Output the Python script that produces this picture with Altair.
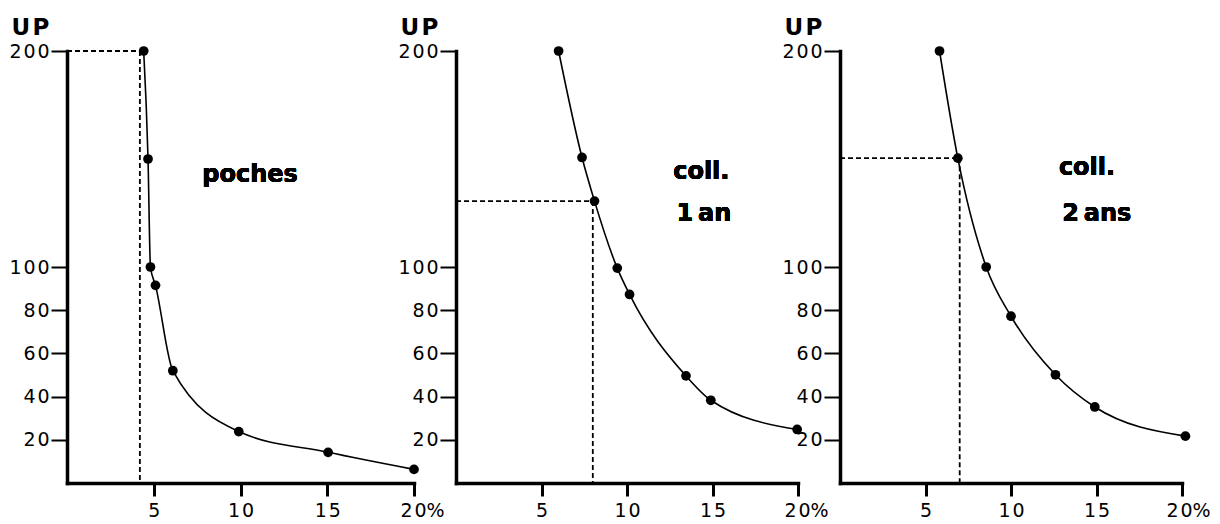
import altair as alt
import pandas as pd

# ---- data ----
poches_pct = [4.42, 4.67, 4.81, 5.1, 6.1, 9.9, 15.05, 20.0]
poches_up = [200, 150, 100, 91.5, 52, 23.8, 14.2, 6.3]

coll1_pct = [6.0, 7.37, 8.1, 9.43, 10.15, 13.45, 14.9, 19.95]
coll1_up = [200, 150.7, 130.5, 99.5, 87.3, 49.6, 38.3, 24.8]

coll2_pct = [5.82, 6.89, 8.55, 10.0, 12.6, 14.9, 20.2]
coll2_up = [200, 150.4, 100, 77.2, 50.1, 35.2, 21.7]

# dashed guide lines
guide_vert_pct = [4.2, 8.0, 7.0]
guide_horiz_up = [200, 130.5, 150.4]
guide_horiz_end = [4.42, 8.1, 6.89]

panel_labels = [["poches"], ["coll.", "1\u2009an"], ["coll.", "2\u2009ans"]]

x_ticks = [5, 10, 15, 20]
x_tick_labels = ["5", "10", "15", "20%"]
y_ticks = [20, 40, 60, 80, 100, 200]
y_tick_labels = ["20", "40", "60", "80", "100", "200"]
y_title = "U\u200aP"

HAIR = "\u200a"


def spaced(s):
    out = ""
    for i, ch in enumerate(s):
        if i > 0 and ch.isdigit() and s[i - 1].isdigit():
            out += HAIR
        out += ch
    return out


def label_expr(values, labels):
    expr = "datum.label"
    for v, l in reversed(list(zip(values, labels))):
        expr = f"datum.value == {v} ? '{spaced(l)}' : {expr}"
    return expr


# annotation anchors (data units) for each panel's text lines
text_anchor = [
    [(7.8, 139.4)],
    [(12.7, 140.7), (12.9, 121.3)],
    [(12.8, 142.5), (13.0, 121.4)],
]

widths = [347, 342, 342]
H = 432

FONT_AX = "DejaVu Sans"


def panel(i, pct, up):
    df = pd.DataFrame({"pct": pct, "up": up})
    xs = alt.Scale(domain=[0, 20], nice=False, zero=False)
    ys = alt.Scale(domain=[0, 200], nice=False)
    xaxis = alt.Axis(
        values=x_ticks,
        labelExpr=label_expr(x_ticks, x_tick_labels),
        title=None,
        grid=False,
        tickSize=13,
        tickWidth=3,
        domainWidth=3.5,
        domainCap="square",
        labelPadding=5,
        labelFont=FONT_AX,
        labelFontSize=19,
        labelColor="black",
        tickColor="black",
        domainColor="black",
        labelFlush=False,
        labelOverlap=False,
        labelOffset={"condition": {"test": "datum.value == 20", "value": 8 if i < 2 else 6}, "value": 0},
    )
    yaxis = alt.Axis(
        values=y_ticks,
        labelExpr=label_expr(y_ticks, y_tick_labels),
        title=y_title,
        titleAngle=0,
        titleAlign="left",
        titleBaseline="alphabetic",
        titleX=-56,
        titleY=-17,
        titleFont=FONT_AX,
        titleFontSize=23,
        titleFontWeight="bold",
        titleColor="black",
        grid=False,
        tickSize=16,
        tickWidth=2,
        domainWidth=3.5,
        domainCap="square",
        labelPadding=2,
        labelFont=FONT_AX,
        labelFontSize=19,
        labelColor="black",
        tickColor="black",
        domainColor="black",
        labelOverlap=False,
    )
    base = alt.Chart(df).encode(
        x=alt.X("pct:Q", scale=xs, axis=xaxis),
        y=alt.Y("up:Q", scale=ys, axis=yaxis),
    )
    line = base.mark_line(interpolate="monotone", color="black", strokeWidth=1.6)
    pts = base.mark_circle(size=95, color="black", opacity=1)

    gdf = pd.DataFrame(
        {
            "x": [0, guide_vert_pct[i]],
            "x2": [guide_horiz_end[i], guide_vert_pct[i]],
            "y": [guide_horiz_up[i], guide_horiz_up[i]],
            "y2": [guide_horiz_up[i], 0],
        }
    )
    guides = (
        alt.Chart(gdf)
        .mark_rule(color="black", strokeDash=[5, 3], strokeWidth=1.8)
        .encode(x=alt.X("x:Q", scale=xs), x2="x2:Q", y=alt.Y("y:Q", scale=ys), y2="y2:Q")
    )

    layers = [guides, line, pts]
    for txt, (tx, ty) in zip(panel_labels[i], text_anchor[i]):
        layers.append(
            alt.Chart(df)
            .mark_text(
                text=txt,
                font="DejaVu Sans",
                fontSize=24,
                fontWeight="bold",
                align="left",
                baseline="alphabetic",
                color="black",
            )
            .encode(x=alt.X(datum=tx, scale=xs), y=alt.Y(datum=ty, scale=ys))
        )
    return alt.layer(*layers).properties(width=widths[i], height=H)


chart = (
    alt.hconcat(
        panel(0, poches_pct, poches_up),
        panel(1, coll1_pct, coll1_up),
        panel(2, coll2_pct, coll2_up),
        spacing=42,
        bounds="flush",
    )
    .properties(padding={"left": 0, "top": 8, "right": 0, "bottom": 0}, background="white")
    .configure_view(stroke=None)
)

chart.save("out.html", embed_options={"renderer": "svg", "actions": False})
